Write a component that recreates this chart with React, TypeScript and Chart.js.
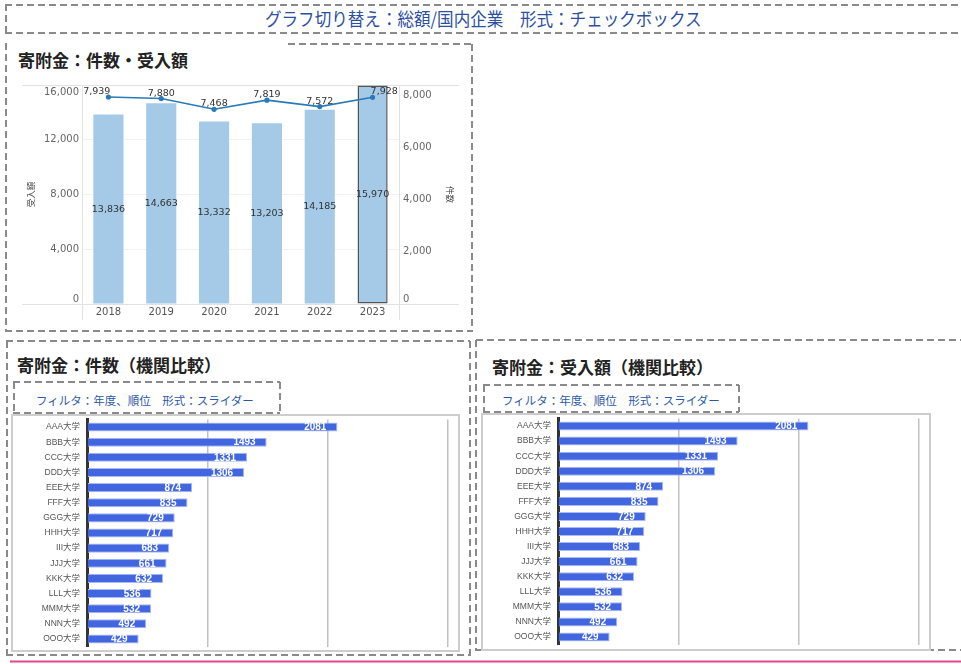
import React, { useEffect, useRef } from "react";
import { Chart, registerables } from "chart.js";

Chart.register(...registerables);

// ---------------- data ----------------
const years = ["2018", "2019", "2020", "2021", "2022", "2023"];
const acceptedAmount = [13836, 14663, 13332, 13203, 14185, 15970];
const donationCount = [7939, 7880, 7468, 7819, 7572, 7928];
const amountAxisTicks = [0, 4000, 8000, 12000, 16000];
const countAxisTicks = [0, 2000, 4000, 6000, 8000];

const universities = [
  "AAA大学", "BBB大学", "CCC大学", "DDD大学", "EEE大学",
  "FFF大学", "GGG大学", "HHH大学", "III大学", "JJJ大学",
  "KKK大学", "LLL大学", "MMM大学", "NNN大学", "OOO大学",
];
const countByUniversity = [2081, 1493, 1331, 1306, 874, 835, 729, 717, 683, 661, 632, 536, 532, 492, 429];
const amountByUniversity = [2081, 1493, 1331, 1306, 874, 835, 729, 717, 683, 661, 632, 536, 532, 492, 429];
const comparisonGridTicks = [0, 1000, 2000, 3000];

// ---------------- helpers ----------------
const fmt = (v: number) => v.toLocaleString("en-US");
const clamp = (v: number, lo: number, hi: number) => Math.max(lo, Math.min(hi, v));
const NUM_FONT = "'DejaVu Sans', sans-serif";
const BAR_FONT = "'Liberation Sans', 'Noto Sans CJK JP', sans-serif";
const JP_FONT = "'Noto Sans CJK JP', sans-serif";

function ChartCanvas({ left, top, width, height, makeConfig }: any) {
  const ref = useRef<HTMLCanvasElement | null>(null);
  useEffect(() => {
    if (!ref.current) return;
    const chart = new Chart(ref.current, makeConfig());
    return () => chart.destroy();
  }, []);
  return (
    <canvas
      ref={ref}
      width={width}
      height={height}
      style={{ position: "absolute", left, top, width, height }}
    />
  );
}

// ---------------- top chart ----------------
const topPlugin = {
  id: "topDecor",
  beforeDatasetsDraw(chart: any) {
    const { ctx, chartArea: a, width, height } = chart;
    ctx.save();
    ctx.strokeStyle = "#e2e2e2";
    ctx.lineWidth = 1;
    ctx.beginPath();
    const t = Math.round(a.top) + 0.5, b = Math.round(a.bottom) + 0.5;
    const l = Math.round(a.left) + 0.5, r = Math.round(a.right) + 0.5;
    ctx.moveTo(0, t); ctx.lineTo(width, t);
    ctx.moveTo(0, b); ctx.lineTo(width, b);
    ctx.moveTo(l, a.top); ctx.lineTo(l, height);
    ctx.moveTo(r, a.top); ctx.lineTo(r, height);
    ctx.stroke();

    ctx.font = `10px ${NUM_FONT}`;
    ctx.fillStyle = "#666";
    ctx.textBaseline = "middle";
    const yS = chart.scales.y, y1S = chart.scales.y1;
    ctx.textAlign = "right";
    yS.ticks.forEach((tk: any) => {
      const py = clamp(yS.getPixelForValue(tk.value), a.top + 7, a.bottom - 5);
      ctx.fillText(fmt(tk.value), a.left - 3, py);
    });
    ctx.textAlign = "left";
    y1S.ticks.forEach((tk: any) => {
      const py = clamp(y1S.getPixelForValue(tk.value), a.top + 7, a.bottom - 5);
      ctx.fillText(fmt(tk.value), a.right + 4, py);
    });
    ctx.restore();
  },
  afterDatasetsDraw(chart: any) {
    const { ctx } = chart;
    ctx.save();
    ctx.font = `9.5px ${NUM_FONT}`;
    ctx.fillStyle = "#333";
    ctx.textBaseline = "middle";
    ctx.textAlign = "center";
    const barMeta = chart.getDatasetMeta(0);
    barMeta.data.forEach((el: any, i: number) => {
      ctx.fillText(fmt(acceptedAmount[i]), el.x, (el.y + el.base) / 2);
    });
    const lineMeta = chart.getDatasetMeta(1);
    const n = lineMeta.data.length;
    lineMeta.data.forEach((el: any, i: number) => {
      let x = el.x;
      if (i === 0) { ctx.textAlign = "right"; x = el.x + 2; }
      else if (i === n - 1) { ctx.textAlign = "left"; x = el.x - 2; }
      else ctx.textAlign = "center";
      ctx.fillText(fmt(donationCount[i]), x, el.y - 5.5);
    });
    ctx.restore();
  },
};

const makeTopConfig = () => {
  const last = years.length - 1;
  return {
    type: "bar",
    data: {
      labels: years,
      datasets: [
        {
          type: "bar",
          label: "受入額",
          data: acceptedAmount,
          yAxisID: "y",
          backgroundColor: "#a4cae8",
          borderColor: years.map((_, i) => (i === last ? "#555" : "rgba(0,0,0,0)")),
          borderWidth: years.map((_, i) => (i === last ? 1.5 : 0)),
          borderSkipped: false,
          barPercentage: 0.57,
          categoryPercentage: 1,
          order: 2,
        },
        {
          type: "line",
          label: "件数",
          data: donationCount,
          yAxisID: "y1",
          borderColor: "#2a7ab8",
          backgroundColor: "#2a7ab8",
          borderWidth: 1.6,
          pointRadius: 1.8,
          pointHoverRadius: 1.8,
          tension: 0,
          order: 1,
        },
      ],
    },
    options: {
      responsive: false,
      animation: false,
      devicePixelRatio: 1,
      layout: { padding: { top: 5, left: 0, right: 0, bottom: 0 } },
      plugins: { legend: { display: false }, tooltip: { enabled: false } },
      scales: {
        x: {
          type: "category",
          offset: true,
          grid: { display: false, drawTicks: false },
          border: { display: false },
          ticks: { color: "#555", font: { size: 10, family: NUM_FONT }, padding: 2, maxRotation: 0 },
          afterFit: (s: any) => { s.height = 16; s.paddingLeft = 0; s.paddingRight = 0; },
        },
        y: {
          position: "left",
          min: 0,
          max: 16000,
          afterBuildTicks: (s: any) => { s.ticks = amountAxisTicks.map((v) => ({ value: v })); },
          ticks: { display: false },
          grid: { color: "#f2f2f2", drawTicks: false },
          border: { display: false },
          title: { display: true, text: "受入額", color: "#444", font: { size: 8.5, family: JP_FONT } },
          afterFit: (s: any) => { s.width = 60; s.paddingTop = 0; s.paddingBottom = 0; },
        },
        y1: {
          position: "right",
          min: 0,
          max: 8400,
          afterBuildTicks: (s: any) => { s.ticks = countAxisTicks.map((v) => ({ value: v })); },
          ticks: { display: false },
          grid: { display: false, drawTicks: false },
          border: { display: false },
          title: { display: true, text: "件数", color: "#444", font: { size: 8.5, family: JP_FONT } },
          afterFit: (s: any) => { s.width = 60; s.paddingTop = 0; s.paddingBottom = 0; },
        },
      },
    },
    plugins: [topPlugin],
  };
};

// ---------------- comparison charts ----------------
const hbarLabelPlugin = {
  id: "hbarLabels",
  afterDatasetsDraw(chart: any) {
    const { ctx } = chart;
    const values = chart.data.datasets[0].data;
    ctx.save();
    ctx.font = `bold 10px ${BAR_FONT}`;
    ctx.fillStyle = "#ffffff";
    ctx.textAlign = "right";
    ctx.textBaseline = "middle";
    chart.getDatasetMeta(0).data.forEach((el: any, i: number) => {
      ctx.fillText(String(values[i]), el.x - 11, el.y + 0.5);
    });
    ctx.restore();
  },
};

const makeHBarConfig = (values: number[], padTop: number, padBottom: number, yWidth: number) => () => ({
  type: "bar",
  data: {
    labels: universities,
    datasets: [
      {
        data: values,
        backgroundColor: "#4166e0",
        borderColor: "#a9b9f3",
        borderWidth: 1,
        barPercentage: 0.6,
        categoryPercentage: 1,
      },
    ],
  },
  options: {
    indexAxis: "y",
    responsive: false,
    animation: false,
    devicePixelRatio: 1,
    layout: { padding: { top: padTop, bottom: padBottom, right: 2, left: 0 } },
    plugins: { legend: { display: false }, tooltip: { enabled: false } },
    scales: {
      x: {
        min: 0,
        max: 3050,
        afterBuildTicks: (s: any) => { s.ticks = comparisonGridTicks.map((v) => ({ value: v })); },
        ticks: { display: false },
        grid: {
          drawTicks: false,
          lineWidth: 1.5,
          color: (c: any) => (c.tick && c.tick.value === 0 ? "rgba(0,0,0,0)" : "#c2c2c2"),
        },
        border: { display: false },
        afterFit: (s: any) => { s.height = 0; s.paddingLeft = 0; s.paddingRight = 0; },
      },
      y: {
        grid: { display: false, drawTicks: false },
        border: { display: true, color: "#333", width: 3 },
        ticks: { color: "#555", font: { size: 8.5, family: BAR_FONT }, padding: 7, autoSkip: false },
        afterFit: (s: any) => { s.width = yWidth; s.paddingTop = 0; s.paddingBottom = 0; },
      },
    },
  },
  plugins: [hbarLabelPlugin],
});

// ---------------- page ----------------
const DASH = "#8a8a8a";
const dashedLines: [number, number, number, number][] = [
  // header
  [5, 5, 961, 5], [6, 4, 6, 34], [5, 33, 961, 33],
  // panel 1
  [6, 43, 6, 331], [288, 44, 472, 44], [472, 44, 472, 331], [5, 331, 473, 331],
  // panel 2
  [6, 341, 470, 341], [7, 341, 7, 656], [470, 341, 470, 656], [6, 655, 470, 655],
  // panel 3
  [476, 340, 961, 340], [476, 340, 476, 651], [476, 650, 961, 650],
  // filter box 1
  [13, 382, 280, 382], [14, 382, 14, 413], [280, 382, 280, 413], [13, 413, 280, 413],
  // filter box 2
  [483, 385, 739, 385], [484, 385, 484, 412], [739, 385, 739, 412], [483, 412, 739, 412],
];

const titleStyle: any = {
  position: "absolute",
  fontFamily: JP_FONT,
  fontWeight: 700,
  fontSize: 17,
  lineHeight: "20px",
  color: "#222",
  whiteSpace: "nowrap",
};
const filterStyle: any = {
  position: "absolute",
  fontFamily: JP_FONT,
  fontSize: 11.5,
  lineHeight: "16px",
  color: "#2b58a6",
  whiteSpace: "nowrap",
};

export default function App() {
  return (
    <div
      style={{
        position: "absolute",
        left: 0,
        top: 0,
        width: 961,
        height: 664,
        overflow: "hidden",
        background: "#fff",
        fontFamily: JP_FONT,
      }}
    >
      <svg width={961} height={664} style={{ position: "absolute", left: 0, top: 0 }}>
        {dashedLines.map(([x1, y1, x2, y2], i) => (
          <line key={i} x1={x1} y1={y1} x2={x2} y2={y2} stroke={DASH} strokeWidth={2} strokeDasharray="7 4" />
        ))}
        <line x1={10} y1={661.5} x2={961} y2={661.5} stroke="#e4468e" strokeWidth={2} />
      </svg>

      <div
        style={{
          position: "absolute",
          left: 265,
          top: 8,
          fontSize: 18,
          lineHeight: "20px",
          color: "#2d4f9f",
          whiteSpace: "nowrap",
          transform: "scaleX(0.92)",
          transformOrigin: "left center",
        }}
      >
        グラフ切り替え：総額/国内企業　形式：チェックボックス
      </div>

      <div style={{ ...titleStyle, left: 18, top: 50 }}>寄附金：件数・受入額</div>
      <ChartCanvas left={22} top={80} width={437} height={240} makeConfig={makeTopConfig} />

      <div style={{ ...titleStyle, left: 17, top: 355 }}>寄附金：件数（機関比較）</div>
      <div style={{ ...filterStyle, left: 36, top: 392 }}>フィルタ：年度、順位　形式：スライダー</div>
      <div
        style={{
          position: "absolute",
          left: 11,
          top: 414,
          width: 445,
          height: 234,
          border: "2px solid #cdcdcd",
        }}
      />
      <ChartCanvas
        left={13}
        top={416}
        width={443}
        height={232}
        makeConfig={makeHBarConfig(countByUniversity, 3.5, 1.5, 74)}
      />

      <div style={{ ...titleStyle, left: 492, top: 357 }}>寄附金：受入額（機関比較）</div>
      <div style={{ ...filterStyle, left: 502, top: 392 }}>フィルタ：年度、順位　形式：スライダー</div>
      <div
        style={{
          position: "absolute",
          left: 481,
          top: 413,
          width: 446,
          height: 234,
          border: "2px solid #cdcdcd",
        }}
      />
      <ChartCanvas
        left={483}
        top={415}
        width={444}
        height={232}
        makeConfig={makeHBarConfig(amountByUniversity, 3.5, 2.5, 75)}
      />
    </div>
  );
}
